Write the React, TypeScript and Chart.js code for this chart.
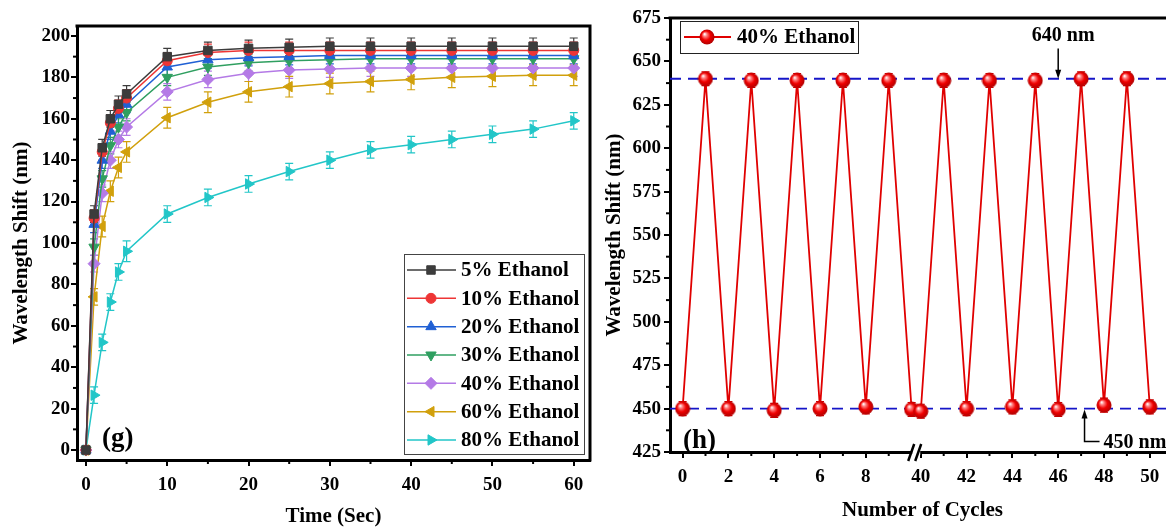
import React, { useEffect, useRef } from 'react';
import { Chart, registerables } from 'chart.js';

Chart.register(...registerables);

const FONT = "'Liberation Serif', 'Times New Roman', Times, serif";

// ---------------- Panel (g) data ----------------
const timeSec = [0, 1, 2, 3, 4, 5, 10, 15, 20, 25, 30, 35, 40, 45, 50, 55, 60];
const shift5 = [0, 114, 146, 160, 167, 172, 190, 193, 194, 194.5, 195, 195, 195, 195, 195, 195, 195];
const shift10 = [0, 112, 144, 158, 165, 170, 188, 192, 193, 193, 193, 193, 193, 193, 193, 193, 193];
const shift20 = [0, 109, 140, 154, 162, 167, 185, 188.5, 189.5, 190, 190.5, 190.5, 190.5, 190.5, 190.5, 190.5, 190.5];
const shift30 = [0, 98, 131, 147, 156, 163, 180, 185, 187, 188, 188.5, 189, 189, 189, 189, 189, 189];
const shift40 = [0, 90, 124, 140, 150, 156, 173, 179, 182, 183.5, 184, 184.5, 184.5, 184.5, 184.5, 184.5, 184.5];
const shift60 = [0, 74, 108, 125, 136.5, 144, 160.5, 168, 173, 175.5, 177, 178, 179, 180, 180.5, 181, 181];
const shift80 = [0, 26.5, 52, 71.5, 86, 96, 114, 122, 128.5, 134.5, 140, 145, 147.5, 150, 152.5, 155, 159];
const err5 = [2, 4, 4, 4, 4, 4, 4, 4, 4, 4, 4, 4, 4, 4, 4, 4, 4];
const err10 = [2, 4, 4, 4, 4, 4, 4, 4, 4, 4, 4, 4, 4, 4, 4, 4, 4];
const err20 = [2, 4, 4, 4, 4, 4, 4, 4, 4, 4, 4, 4, 4, 4, 4, 4, 4];
const err30 = [2, 4, 4, 4, 4, 4, 4, 4, 4, 4, 4, 4, 4, 4, 4, 4, 4];
const err40 = [2, 4, 4, 4, 4, 4, 4, 4, 4, 4, 4, 4, 4, 4, 4, 4, 4];
const err60 = [2, 4, 5, 5, 5, 5, 5, 5, 5, 5, 5, 5, 5, 5, 5, 5, 5];
const err80 = [2, 4, 4, 4, 4, 5, 4, 4, 4, 4, 4, 4, 4, 4, 4, 4, 4];
const seriesNames = ['5% Ethanol', '10% Ethanol', '20% Ethanol', '30% Ethanol', '40% Ethanol', '60% Ethanol', '80% Ethanol'];
const timeTicks = [0, 10, 20, 30, 40, 50, 60];
const timeMinorTicks = [5, 15, 25, 35, 45, 55];
const shiftTicksG = [0, 20, 40, 60, 80, 100, 120, 140, 160, 180, 200];
const shiftMinorG = [10, 30, 50, 70, 90, 110, 130, 150, 170, 190];

// ---------------- Panel (h) data ----------------
const cycleNumbers = [0, 1, 2, 3, 4, 5, 6, 7, 8, 9, 10, 40, 41, 42, 43, 44, 45, 46, 47, 48, 49, 50];
const cycleShift = [450, 640, 450, 639, 449, 639, 450, 639, 451, 639, 449.5, 448.5, 639, 450, 639, 451, 639, 449.5, 640, 452, 640, 451];
const cycleErr = [4, 4, 4, 4, 4, 4, 4, 4, 4, 4, 4, 4, 4, 4, 4, 4, 4, 4, 4, 4, 4, 4];
const cycleTicks = [0, 2, 4, 6, 8, 40, 42, 44, 46, 48, 50];
const cycleMinorTicks = [1, 3, 5, 7, 9, 41, 43, 45, 47, 49];
const cycleShiftTicks = [425, 450, 475, 500, 525, 550, 575, 600, 625, 650, 675];
const cycleShiftMinor = [437.5, 462.5, 487.5, 512.5, 537.5, 562.5, 587.5, 612.5, 637.5, 662.5];
const refLevels = [640, 450];
const refLabels = ['640 nm', '450 nm'];
const cycleSeriesName = '40% Ethanol';

// broken axis: 0..10 then 40..50 drawn right after a small gap
const axisPos = (c: number) => (c <= 10 ? c : c - 29.6);

// ---------------- styles ----------------
const gColors = ['#3c3c3c', '#ee3535', '#2060d4', '#2f9f60', '#b47ae6', '#d1a00c', '#22c6c8'];
const gStyles = ['rect', 'circle', 'triangle', 'triangle', 'rectRot', 'triangle', 'triangle'];
const gRot = [0, 0, 0, 180, 0, 270, 90];
const gRadius = [6, 5, 6, 6, 6, 6, 6];

function drawMarker(ctx: CanvasRenderingContext2D, style: string, rot: number, x: number, y: number, r: number, color: string) {
  ctx.save();
  ctx.fillStyle = color;
  ctx.strokeStyle = color;
  ctx.lineWidth = 1;
  ctx.beginPath();
  let a = (rot * Math.PI) / 180;
  if (style === 'circle') ctx.arc(x, y, r, 0, Math.PI * 2);
  else if (style === 'rect') {
    const s = r * Math.SQRT1_2;
    ctx.rect(x - s, y - s, 2 * s, 2 * s);
  } else if (style === 'rectRot') {
    ctx.moveTo(x, y - r);
    ctx.lineTo(x + r, y);
    ctx.lineTo(x, y + r);
    ctx.lineTo(x - r, y);
    ctx.closePath();
  } else {
    for (let i = 0; i < 3; i++) {
      const px = x + Math.sin(a) * r;
      const py = y - Math.cos(a) * r;
      if (i === 0) ctx.moveTo(px, py);
      else ctx.lineTo(px, py);
      a += (2 * Math.PI) / 3;
    }
    ctx.closePath();
  }
  ctx.fill();
  ctx.stroke();
  ctx.restore();
}

function makeSphere(): HTMLCanvasElement {
  const c = document.createElement('canvas');
  c.width = 16;
  c.height = 16;
  const x = c.getContext('2d') as CanvasRenderingContext2D;
  const g = x.createRadialGradient(5.5, 5, 0.3, 8, 8, 8);
  g.addColorStop(0, '#ffffff');
  g.addColorStop(0.22, '#ff8080');
  g.addColorStop(0.55, '#f00000');
  g.addColorStop(1, '#a80000');
  x.fillStyle = g;
  x.beginPath();
  x.arc(8, 8, 7.5, 0, Math.PI * 2);
  x.fill();
  return c;
}

function drawMinor(ctx: CanvasRenderingContext2D, scale: any, values: number[], len: number, horizontal: boolean) {
  ctx.save();
  ctx.strokeStyle = '#000';
  ctx.lineWidth = 2;
  values.forEach((v) => {
    const p = scale.getPixelForValue(v);
    ctx.beginPath();
    if (horizontal) {
      ctx.moveTo(p, scale.top);
      ctx.lineTo(p, scale.top + len);
    } else {
      ctx.moveTo(scale.right, p);
      ctx.lineTo(scale.right - len, p);
    }
    ctx.stroke();
  });
  ctx.restore();
}

function drawErrorBars(chart: any, errs: number[][], colors: string[]) {
  const ctx = chart.ctx as CanvasRenderingContext2D;
  const ys = chart.scales.y;
  chart.data.datasets.forEach((ds: any, di: number) => {
    const meta = chart.getDatasetMeta(di);
    ctx.save();
    ctx.strokeStyle = colors[di];
    ctx.lineWidth = 1.2;
    meta.data.forEach((pt: any, i: number) => {
      const v = ds.data[i].y;
      const e = errs[di][i];
      const y1 = ys.getPixelForValue(v + e);
      const y2 = ys.getPixelForValue(v - e);
      const x = pt.x;
      ctx.beginPath();
      ctx.moveTo(x, y1);
      ctx.lineTo(x, y2);
      ctx.moveTo(x - 4, y1);
      ctx.lineTo(x + 4, y1);
      ctx.moveTo(x - 4, y2);
      ctx.lineTo(x + 4, y2);
      ctx.stroke();
    });
    ctx.restore();
  });
}

function drawFrame(chart: any, right: boolean) {
  const ctx = chart.ctx as CanvasRenderingContext2D;
  const a = chart.chartArea;
  ctx.save();
  ctx.strokeStyle = '#000';
  ctx.lineWidth = 3;
  ctx.beginPath();
  ctx.moveTo(a.left - 1.5, a.top);
  ctx.lineTo(a.right, a.top);
  if (right) ctx.lineTo(a.right, a.bottom + 1.5);
  ctx.stroke();
  ctx.restore();
}

function arrowHead(ctx: CanvasRenderingContext2D, x: number, y: number, dir: number) {
  ctx.beginPath();
  ctx.moveTo(x, y);
  ctx.lineTo(x - 3, y - dir * 9);
  ctx.lineTo(x + 3, y - dir * 9);
  ctx.closePath();
  ctx.fill();
}

const tickFont = { family: FONT, size: 19, weight: 'bold' as const };
const titleFont = { family: FONT, size: 21, weight: 'bold' as const, lineHeight: 1 };

export default function App() {
  const leftRef = useRef<HTMLCanvasElement>(null);
  const rightRef = useRef<HTMLCanvasElement>(null);

  useEffect(() => {
    const gValues = [shift5, shift10, shift20, shift30, shift40, shift60, shift80];
    const gErrs = [err5, err10, err20, err30, err40, err60, err80];

    const leftPlugin = {
      id: 'panelG',
      beforeDatasetsDraw(chart: any) {
        drawErrorBars(chart, gErrs, gColors);
      },
      afterDraw(chart: any) {
        const ctx = chart.ctx as CanvasRenderingContext2D;
        drawFrame(chart, true);
        drawMinor(ctx, chart.scales.x, timeMinorTicks, 4, true);
        drawMinor(ctx, chart.scales.y, shiftMinorG, 4, false);
        // legend
        const bx = 404, by = 254, bw = 180, bh = 200;
        ctx.save();
        ctx.fillStyle = '#fff';
        ctx.fillRect(bx, by, bw, bh);
        ctx.strokeStyle = '#444';
        ctx.lineWidth = 1;
        ctx.strokeRect(bx + 0.5, by + 0.5, bw, bh);
        ctx.font = `bold 21px ${FONT}`;
        ctx.textBaseline = 'middle';
        seriesNames.forEach((name, i) => {
          const yc = 270 + i * 28.33;
          ctx.strokeStyle = gColors[i];
          ctx.lineWidth = 1.5;
          ctx.beginPath();
          ctx.moveTo(407, yc);
          ctx.lineTo(456, yc);
          ctx.stroke();
          drawMarker(ctx, gStyles[i], gRot[i], 431, yc, gRadius[i], gColors[i]);
          ctx.fillStyle = '#000';
          ctx.fillText(name, 461, yc + 1);
        });
        ctx.font = `bold 27px ${FONT}`;
        ctx.textBaseline = 'alphabetic';
        ctx.fillStyle = '#000';
        ctx.fillText('(g)', 102, 446);
        ctx.restore();
      },
    };

    const left = new Chart(leftRef.current as HTMLCanvasElement, {
      type: 'line',
      data: {
        datasets: seriesNames.map((name, i) => ({
          label: name,
          data: timeSec.map((t, k) => ({ x: t, y: gValues[i][k] })),
          borderColor: gColors[i],
          backgroundColor: gColors[i],
          borderWidth: 1.5,
          pointStyle: gStyles[i] as any,
          pointRotation: gRot[i],
          pointRadius: gRadius[i],
          pointBackgroundColor: gColors[i],
          pointBorderColor: gColors[i],
          pointBorderWidth: 1,
          tension: 0,
          fill: false,
        })),
      },
      options: {
        animation: false,
        responsive: false,
        maintainAspectRatio: false,
        layout: { padding: { top: 26, right: 10, left: 0, bottom: 0 } },
        plugins: { legend: { display: false }, tooltip: { enabled: false } },
        scales: {
          x: {
            type: 'linear',
            min: -1.1,
            max: 62,
            afterBuildTicks: (s: any) => {
              s.ticks = timeTicks.map((v) => ({ value: v }));
            },
            afterFit: (s: any) => {
              s.height = 67;
            },
            ticks: { font: tickFont, color: '#000', padding: 8, maxRotation: 0, autoSkip: false },
            grid: { display: true, drawOnChartArea: false, drawTicks: true, tickLength: 6, lineWidth: 2, color: '#000' },
            border: { display: true, width: 3, color: '#000' },
            title: { display: true, text: 'Time (Sec)', font: titleFont, color: '#000', padding: { top: 0, bottom: 0 } },
          },
          y: {
            type: 'linear',
            min: -4.8,
            max: 204.8,
            afterBuildTicks: (s: any) => {
              s.ticks = shiftTicksG.map((v) => ({ value: v }));
            },
            afterFit: (s: any) => {
              s.width = 77;
            },
            ticks: { font: tickFont, color: '#000', padding: 1, autoSkip: false },
            grid: { display: true, drawOnChartArea: false, drawTicks: true, tickLength: 6, lineWidth: 2, color: '#000' },
            border: { display: true, width: 3, color: '#000' },
            title: { display: true, text: 'Wavelength Shift (nm)', font: titleFont, color: '#000', padding: { top: 11, bottom: 0 } },
          },
        },
      },
      plugins: [leftPlugin],
    });

    const sphere = makeSphere();

    const rightPlugin = {
      id: 'panelH',
      beforeDatasetsDraw(chart: any) {
        const ctx = chart.ctx as CanvasRenderingContext2D;
        const a = chart.chartArea;
        const ys = chart.scales.y;
        ctx.save();
        ctx.strokeStyle = '#1515c8';
        ctx.lineWidth = 1.8;
        ctx.setLineDash([11, 7]);
        refLevels.forEach((lv) => {
          const y = ys.getPixelForValue(lv);
          ctx.beginPath();
          ctx.moveTo(a.left, y);
          ctx.lineTo(a.right, y);
          ctx.stroke();
        });
        ctx.restore();
        drawErrorBars(chart, [cycleErr], ['#d00000']);
      },
      afterDraw(chart: any) {
        const ctx = chart.ctx as CanvasRenderingContext2D;
        const xs = chart.scales.x;
        const ys = chart.scales.y;
        drawFrame(chart, false);
        drawMinor(ctx, xs, cycleMinorTicks.map(axisPos), 4, true);
        drawMinor(ctx, ys, cycleShiftMinor, 4, false);
        // axis break marks
        const bxp = xs.getPixelForValue((axisPos(10) + axisPos(40)) / 2);
        const ab = chart.chartArea.bottom;
        ctx.save();
        ctx.fillStyle = '#fff';
        ctx.fillRect(bxp - 4, ab - 3, 8, 6);
        ctx.strokeStyle = '#000';
        ctx.lineWidth = 2.5;
        ctx.beginPath();
        ctx.moveTo(bxp - 8, ab + 9);
        ctx.lineTo(bxp - 2, ab - 8);
        ctx.moveTo(bxp - 1, ab + 9);
        ctx.lineTo(bxp + 5, ab - 8);
        ctx.stroke();
        // legend
        const lx = 80, ly = 21, lw = 178, lh = 32;
        ctx.fillStyle = '#fff';
        ctx.fillRect(lx, ly, lw, lh);
        ctx.strokeStyle = '#222';
        ctx.lineWidth = 1;
        ctx.strokeRect(lx + 0.5, ly + 0.5, lw, lh);
        ctx.strokeStyle = '#e00000';
        ctx.lineWidth = 1.8;
        ctx.beginPath();
        ctx.moveTo(84, 37);
        ctx.lineTo(131, 37);
        ctx.stroke();
        ctx.drawImage(sphere, 107 - 8, 37 - 8);
        ctx.fillStyle = '#000';
        ctx.font = `bold 21px ${FONT}`;
        ctx.textBaseline = 'middle';
        ctx.fillText(cycleSeriesName, 137, 38);
        // 640 nm annotation
        const ax1 = xs.getPixelForValue(axisPos(46));
        const ty1 = ys.getPixelForValue(refLevels[0]);
        ctx.strokeStyle = '#000';
        ctx.lineWidth = 1.5;
        ctx.beginPath();
        ctx.moveTo(ax1, ys.getPixelForValue(657.5));
        ctx.lineTo(ax1, ty1 - 6);
        ctx.stroke();
        arrowHead(ctx, ax1, ty1, 1);
        ctx.font = `bold 20px ${FONT}`;
        ctx.textAlign = 'center';
        ctx.fillText(refLabels[0], ax1 + 5, ys.getPixelForValue(665));
        // 450 nm annotation
        const ax2 = xs.getPixelForValue(axisPos(47.15));
        const ty2 = ys.getPixelForValue(refLevels[1]);
        const yb = ys.getPixelForValue(431);
        ctx.beginPath();
        ctx.moveTo(ax2, ty2 + 6);
        ctx.lineTo(ax2, yb);
        ctx.lineTo(ax2 + 15, yb);
        ctx.stroke();
        arrowHead(ctx, ax2, ty2 + 1, -1);
        ctx.textAlign = 'left';
        ctx.fillText(refLabels[1], ax2 + 19, yb + 1);
        // panel label
        ctx.font = `bold 27px ${FONT}`;
        ctx.textBaseline = 'alphabetic';
        ctx.fillText('(h)', 83, 448);
        ctx.restore();
      },
    };

    const right = new Chart(rightRef.current as HTMLCanvasElement, {
      type: 'line',
      data: {
        datasets: [
          {
            label: cycleSeriesName,
            data: cycleNumbers.map((c, k) => ({ x: axisPos(c), y: cycleShift[k] })),
            borderColor: '#e00000',
            backgroundColor: '#e00000',
            borderWidth: 1.8,
            pointStyle: sphere as any,
            pointRadius: 7,
            tension: 0,
            fill: false,
          },
        ],
      },
      options: {
        animation: false,
        responsive: false,
        maintainAspectRatio: false,
        layout: { padding: { top: 18, right: 25, left: 0, bottom: 0 } },
        plugins: { legend: { display: false }, tooltip: { enabled: false } },
        scales: {
          x: {
            type: 'linear',
            min: -0.55,
            max: 21.5,
            afterBuildTicks: (s: any) => {
              s.ticks = cycleTicks.map((c) => ({ value: axisPos(c) }));
            },
            afterFit: (s: any) => {
              s.height = 75;
            },
            ticks: {
              font: tickFont,
              color: '#000',
              padding: 8,
              maxRotation: 0,
              autoSkip: false,
              callback: (v: any) => {
                const i = cycleTicks.findIndex((c) => Math.abs(axisPos(c) - Number(v)) < 1e-6);
                return i >= 0 ? String(cycleTicks[i]) : '';
              },
            },
            grid: { display: true, drawOnChartArea: false, drawTicks: true, tickLength: 6, lineWidth: 2, color: '#000' },
            border: { display: true, width: 3, color: '#000' },
            title: { display: true, text: 'Number of Cycles', font: titleFont, color: '#000', padding: { top: 0, bottom: 6 } },
          },
          y: {
            type: 'linear',
            min: 425,
            max: 675,
            afterBuildTicks: (s: any) => {
              s.ticks = cycleShiftTicks.map((v) => ({ value: v }));
            },
            afterFit: (s: any) => {
              s.width = 70;
            },
            ticks: { font: tickFont, color: '#000', padding: 3, autoSkip: false },
            grid: { display: true, drawOnChartArea: false, drawTicks: true, tickLength: 6, lineWidth: 2, color: '#000' },
            border: { display: true, width: 3, color: '#000' },
            title: { display: true, text: 'Wavelength Shift (nm)', font: titleFont, color: '#000', padding: { top: 4, bottom: 0 } },
          },
        },
      },
      plugins: [rightPlugin],
    });

    return () => {
      left.destroy();
      right.destroy();
    };
  }, []);

  return (
    <div style={{ position: 'fixed', left: 0, top: 0, width: 1166, height: 527, overflow: 'hidden', background: '#fff' }}>
      <canvas ref={leftRef} width={600} height={527} style={{ position: 'absolute', left: 0, top: 0, width: 600, height: 527 }} />
      <canvas ref={rightRef} width={600} height={527} style={{ position: 'absolute', left: 600, top: 0, width: 600, height: 527 }} />
    </div>
  );
}
